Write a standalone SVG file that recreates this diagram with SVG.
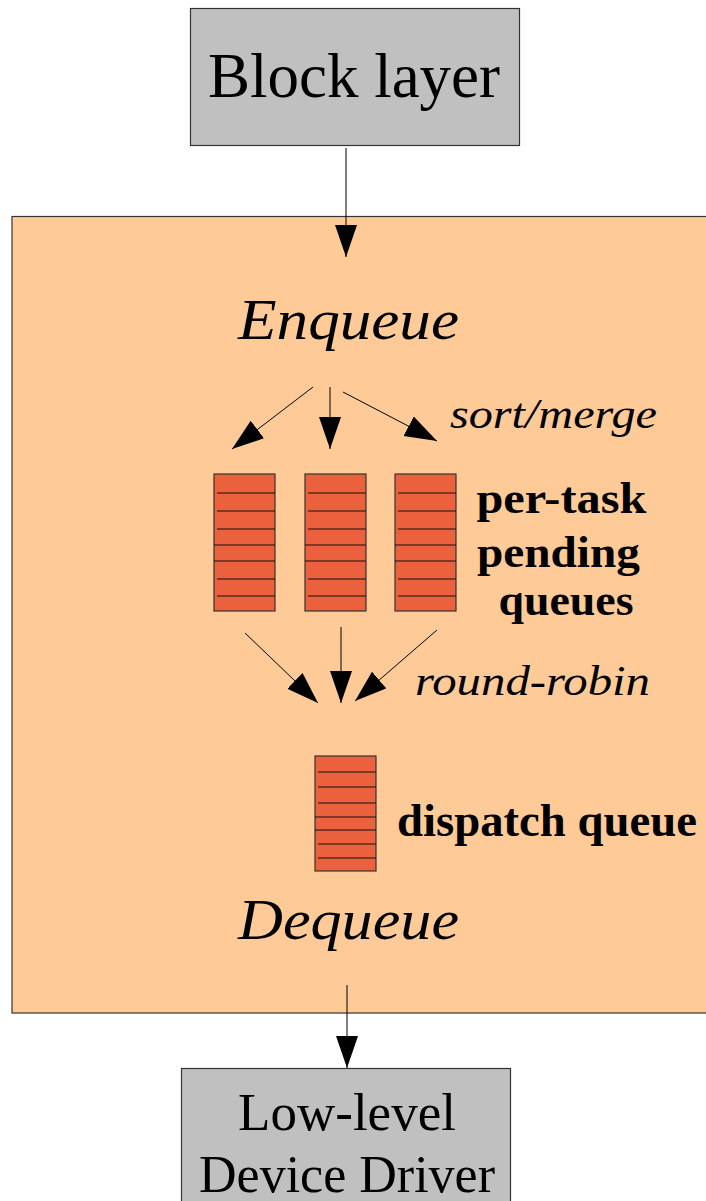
<svg xmlns="http://www.w3.org/2000/svg" width="706" height="1201" viewBox="0 0 706 1201">
<defs>
<marker id="ah" markerUnits="userSpaceOnUse" markerWidth="34" markerHeight="24" refX="32" refY="11" orient="auto">
<path d="M0,0 L32,11 L0,22 z" fill="#000"/>
</marker>
<style>
.box{fill:#c0c0c0;stroke:#333;stroke-width:1.2}
.serif{font-family:"Liberation Serif","Times New Roman",serif;fill:#000}
.it{font-style:italic}
.b{font-weight:bold}
.q{fill:#eb613d;stroke:#333;stroke-width:1.2}
.ql{stroke:#111;stroke-width:1.2}
.c{stroke:#000;stroke-width:1;fill:none;marker-end:url(#ah)}
</style>
</defs>
<rect width="706" height="1201" fill="#fff"/>
<g id="scheduler">
<rect x="12" y="216.5" width="700" height="796.5" fill="#fecb98" stroke="#333" stroke-width="1.2"/>
<text class="serif it" x="238" y="339" font-size="57" textLength="221" lengthAdjust="spacingAndGlyphs">Enqueue</text>
<text class="serif it" x="238" y="939" font-size="57" textLength="221" lengthAdjust="spacingAndGlyphs">Dequeue</text>
<text class="serif it" x="450" y="428" font-size="42" textLength="207" lengthAdjust="spacingAndGlyphs">sort/merge</text>
<text class="serif it" x="415" y="695" font-size="42" textLength="235" lengthAdjust="spacingAndGlyphs">round-robin</text>
</g>
<g id="block-layer">
<rect class="box" x="190.5" y="8.5" width="329" height="137"/>
<text class="serif" x="354" y="97" font-size="63" text-anchor="middle">Block layer</text>
</g>
<g id="pending-queues">
<g id="q1">
<rect class="q" x="214" y="474" width="61" height="137"/>
<path class="ql" d="M217,493H275M217,511H275M217,529H275M214,545H275M214,561H275M217,579H275M217,596H275"/>
</g>
<g id="q2">
<rect class="q" x="305" y="474" width="61" height="137"/>
<path class="ql" d="M308,493H366M308,511H366M308,529H366M305,545H366M305,561H366M308,579H366M308,596H366"/>
</g>
<g id="q3">
<rect class="q" x="395" y="474" width="61" height="137"/>
<path class="ql" d="M398,493H456M398,511H456M398,529H456M395,545H456M395,561H456M398,579H456M398,596H456"/>
</g>
<text class="serif b" font-size="45" text-anchor="middle">
<tspan x="567" y="513" textLength="170" lengthAdjust="spacingAndGlyphs">per-task</tspan>
<tspan x="564" y="567" textLength="163" lengthAdjust="spacingAndGlyphs">pending</tspan>
<tspan x="566" y="615" textLength="135" lengthAdjust="spacingAndGlyphs">queues</tspan>
</text>
</g>
<g id="dispatch-queue">
<rect class="q" x="315" y="756" width="61" height="115"/>
<path class="ql" d="M318,772H376M318,787H376M318,803H376M315,817H376M315,830H376M318,844H376M318,858H376"/>
<text class="serif b" x="397" y="836" font-size="46" textLength="300" lengthAdjust="spacingAndGlyphs">dispatch queue</text>
</g>
<g id="device-driver">
<rect class="box" x="181.5" y="1068.5" width="329" height="140"/>
<text class="serif" x="347" y="1130" font-size="53" text-anchor="middle">Low-level</text>
<text class="serif" x="347" y="1192" font-size="52" text-anchor="middle">Device Driver</text>
</g>
<g id="connectors">
<line class="c" x1="346" y1="148" x2="346" y2="257"/>
<line class="c" x1="313" y1="387" x2="232" y2="449"/>
<line class="c" x1="330" y1="387" x2="330" y2="449"/>
<line class="c" x1="343" y1="392" x2="437" y2="441"/>
<line class="c" x1="245" y1="633" x2="318" y2="703"/>
<line class="c" x1="341" y1="627" x2="341" y2="703"/>
<line class="c" x1="437" y1="630" x2="355" y2="701"/>
<line class="c" x1="347" y1="985" x2="347" y2="1068"/>
</g>
</svg>
